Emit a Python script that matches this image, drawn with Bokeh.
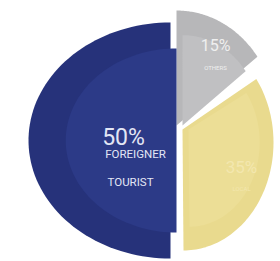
import numpy as np
from bokeh.plotting import figure
from bokeh.models import Range1d
from bokeh.embed import file_html
from bokeh.resources import INLINE
from bokeh.core.properties import value

# ---- data ----
categories = ["OTHERS", "LOCAL", "FOREIGNER TOURIST"]   # clockwise from 12 o'clock
shares = [15, 35, 50]
pct_labels = ["15%", "35%", "50%"]
sub_labels = [["OTHERS"], ["LOCAL"], ["FOREIGNER", "TOURIST"]]

# ---- style / layout (reference pixel coords) ----
colors = ["#b7b7b9", "#e9da8e", "#26327a"]
inner_colors = ["#c0c0c2", "#ecde96", "#2c3a87"]
text_colors = ["#efefef", "#f3e7ae", "#e3e6f5"]
apex = [(176, 125), (182, 129), (170, 140)]
arc_centers = [(176, 122), (183, 142), (170, 140)]
radii = [(100, 112), (90, 108), (142, 118)]
pct_pos = [(215, 45), (241, 166), (123, 137)]
sub_pos = [[(215, 67)], [(241, 188)], [(135, 153), (130, 181)]]
pct_size = [16, 17, 23]
sub_size = [6, 6, 11.5]
FONT = value("Roboto")

W, H = 280, 261
def X(x): return x
def Y(y): return H - y

p = figure(width=W, height=H, x_range=Range1d(0, W), y_range=Range1d(0, H),
           output_backend="svg", toolbar_location=None, min_border=0)
p.axis.visible = False
p.grid.visible = False
p.outline_line_color = None
p.background_fill_color = "white"

cum = np.cumsum([0] + shares)
for i, s in enumerate(shares):
    a0 = np.deg2rad(90 - cum[i] * 3.6)
    a1 = np.deg2rad(90 - cum[i + 1] * 3.6)
    t = np.linspace(a0, a1, 80)
    ax, ay = apex[i]
    cx, cy = arc_centers[i]
    rx, ry = radii[i]
    for scale, col, dx in ((1.0, colors[i], 0), (0.78, inner_colors[i], 6)):
        xs = [X(ax + dx)] + list(X(cx + dx + scale * rx * np.cos(t))) + [X(ax + dx)]
        ys = [Y(ay)] + list(Y(cy - scale * ry * np.sin(t))) + [Y(ay)]
        p.patch(xs, ys, fill_color=col, line_color=None)
    px, py = pct_pos[i]
    p.text(x=[X(px)], y=[Y(py)], text=[pct_labels[i]], text_align="center",
           text_baseline="middle", text_color=text_colors[i],
           text_font=FONT, text_font_size=f"{pct_size[i]}px")
    for (sx, sy), line in zip(sub_pos[i], sub_labels[i]):
        p.text(x=[X(sx)], y=[Y(sy)], text=[line],
               text_align="center", text_baseline="middle", text_color=text_colors[i],
               text_font=FONT, text_font_size=f"{sub_size[i]}px")

open("out.html", "w").write(file_html(p, INLINE))
